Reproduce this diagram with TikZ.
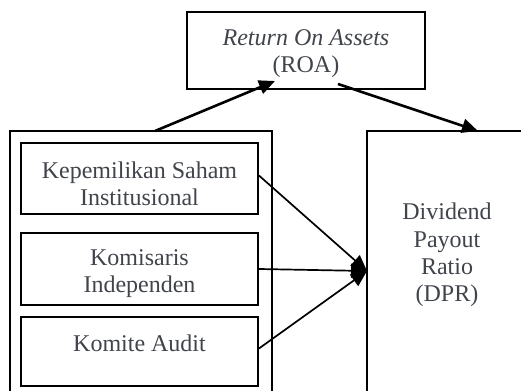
\documentclass[tikz,border=0pt]{standalone}
\usepackage{fontspec}
\setmainfont{Liberation Serif}
\usetikzlibrary{arrows.meta}
\definecolor{textgray}{RGB}{64,68,75}
\tikzset{
    box/.style={draw,rectangle,line width=0.95pt,inner sep=0pt},
    txt/.style={align=center,text=textgray,font=\fontsize{12}{13.6}\selectfont},
    thick arrow/.style={line width=1.3pt,-{Triangle[length=8pt,width=7pt]}},
    thin arrow/.style={line width=0.85pt,-{Triangle[length=8pt,width=7pt]}}
}
\begin{document}
\begin{tikzpicture}[x=0.5pt,y=-0.5pt]
                    \clip (0,0) rectangle (521,391);
                    %NODE
                    \node[box,minimum width=119pt,minimum height=38.5pt] (roa) at (306,50.5){};
                    \node[box,minimum width=131pt,minimum height=136pt] (grp) at (141,267){};
                    \node[box,minimum width=118.5pt,minimum height=35.5pt] (ksi) at (139.5,178.5){};
                    \node[box,minimum width=118.5pt,minimum height=36pt] (ki) at (139.5,269){};
                    \node[box,minimum width=118.5pt,minimum height=34.5pt] (ka) at (139.5,351.5){};
                    \node[box,minimum width=80pt,minimum height=136pt] (dpr) at (447,267){};

                    %TEXT
                    \node[txt] (roatext) at (306,54){\textit{Return On Assets}\\(ROA)};
                    \node[txt] (ksitext) at (139.5,184){Kepemilikan Saham\\Institusional};
                    \node[txt] (kitext) at (139.5,274){Komisaris\\Independen};
                    \node[txt] (katext) at (139.5,343){Komite Audit};
                    \node[txt] (dprtext) at (447,255){Dividend\\Payout\\Ratio\\(DPR)};

                    \coordinate (grptop) at (155,131);
                    \coordinate (roain) at (275,81);
                    \coordinate (roaout) at (338,84);
                    \coordinate (dprtop) at (478,131);
                    \coordinate (dprin) at (367,271);

                    %EDGE
                    \draw[thick arrow] (grptop) -- (roain);
                    \draw[thick arrow] (roaout) -- (dprtop);
                    \draw[thin arrow] ([yshift=1.5pt]ksi.east) -- (dprin);
                    \draw[thin arrow] (ki.east) -- (dprin);
                    \draw[thin arrow] ([yshift=1.5pt]ka.east) -- (dprin);
                \end{tikzpicture}
\end{document}
